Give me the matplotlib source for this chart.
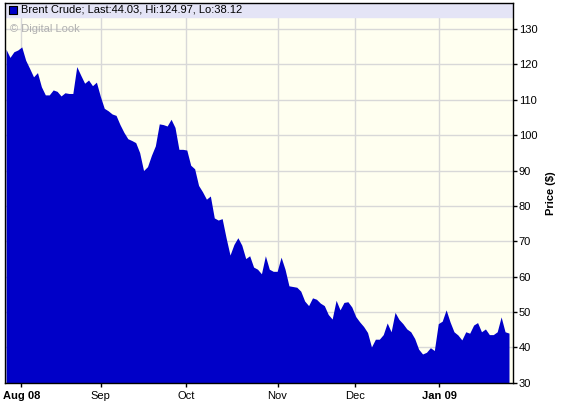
import matplotlib
matplotlib.use("Agg")
import matplotlib.pyplot as plt
import numpy as np

# Brent crude closing prices, one per trading day
prices = [
    124.3, 122.0, 123.6, 124.1, 124.97, 121.2, 118.9, 116.5, 117.7, 113.7,
    111.4, 111.4, 112.8, 112.4, 111.1, 112.0, 111.8, 111.8, 119.4, 117.0,
    114.7, 115.6, 114.0, 115.0, 111.0, 107.6, 106.9, 106.0, 105.6, 103.0,
    100.8, 99.0, 98.5, 97.9, 95.1, 90.0, 91.1, 94.3, 97.0, 103.2,
    103.0, 102.6, 104.5, 102.2, 96.0, 96.0, 95.8, 91.5, 90.5, 85.8,
    84.0, 81.9, 82.8, 76.6, 76.0, 76.4, 71.0, 66.1, 69.1, 71.0,
    68.9, 65.1, 65.9, 62.7, 62.1, 60.8, 65.9, 62.1, 61.5, 61.5,
    65.5, 62.1, 57.4, 57.2, 57.0, 55.9, 53.1, 51.8, 54.0, 53.6,
    52.5, 51.8, 49.3, 48.0, 53.3, 50.6, 52.7, 52.9, 51.4, 48.7,
    47.2, 45.9, 44.2, 40.1, 42.3, 42.3, 43.6, 46.9, 44.4, 49.9,
    47.9, 46.7, 45.2, 44.4, 42.5, 39.5, 38.12, 38.6, 39.9, 39.1,
    46.7, 47.4, 50.6, 47.2, 44.4, 43.5, 42.1, 44.4, 44.0, 46.3,
    47.0, 44.4, 45.2, 43.6, 43.6, 44.4, 48.6, 44.4, 44.03,
]
month_pos = [3.9, 24.1, 45.9, 69.1, 88.9, 110.2]
month_labels = ["Aug 08", "Sep", "Oct", "Nov", "Dec", "Jan 09"]
y_ticks = [30, 40, 50, 60, 70, 80, 90, 100, 110, 120, 130]

x = np.arange(len(prices))

fig = plt.figure(figsize=(5.61, 4.09), dpi=100)
ax = fig.add_axes([0.0095, 0.0643, 0.9055, 0.9276])
ax.set_facecolor("#fffff0")

ax.fill_between(x, prices, 30, color="#0000c8", linewidth=0, zorder=3)

ax.set_xlim(-0.18, 129.1)
ax.set_ylim(30, 137.3)

# header band with legend
ax.axhspan(133.5, 137.3, color="#e4e4f6", zorder=1.5)
ax.grid(True, color="#d8d8d8", linewidth=1, zorder=1)
ax.set_axisbelow(True)

ax.set_yticks(y_ticks)
ax.yaxis.tick_right()
ax.yaxis.set_label_position("right")
ax.tick_params(axis="y", direction="out", length=3, width=1, pad=1,
               labelsize=8, colors="black")
ax.set_xticks(month_pos)
ax.set_xticklabels(month_labels)
ax.tick_params(axis="x", direction="out", length=3, width=1, pad=3,
               labelsize=8)
for lbl in ax.get_xticklabels():
    if lbl.get_text() in ("Aug 08", "Jan 09"):
        lbl.set_fontweight("bold")
for lbl in ax.get_xticklabels() + ax.get_yticklabels():
    lbl.set_family("Liberation Sans")

for s in ax.spines.values():
    s.set_color("black")
    s.set_linewidth(1)
    s.set_zorder(5)

ax.set_ylabel("Price ($)", fontsize=8, fontweight="bold",
              family="Liberation Sans", labelpad=6)

# legend text in header band
ax.scatter([1.7], [135.5], marker="s", s=28, color="#0000c8",
           edgecolors="black", linewidths=0.8, zorder=4, clip_on=False)
ax.text(3.9, 135.5, "Brent Crude; Last:44.03, Hi:124.97, Lo:38.12",
        fontsize=8, family="Liberation Sans", va="center", zorder=4)
ax.text(0.9, 130.0, "\u00a9 Digital Look", fontsize=8,
        family="Liberation Sans", color="#b0b0b0", va="center", zorder=2)

fig.savefig("out.png", dpi=100)
